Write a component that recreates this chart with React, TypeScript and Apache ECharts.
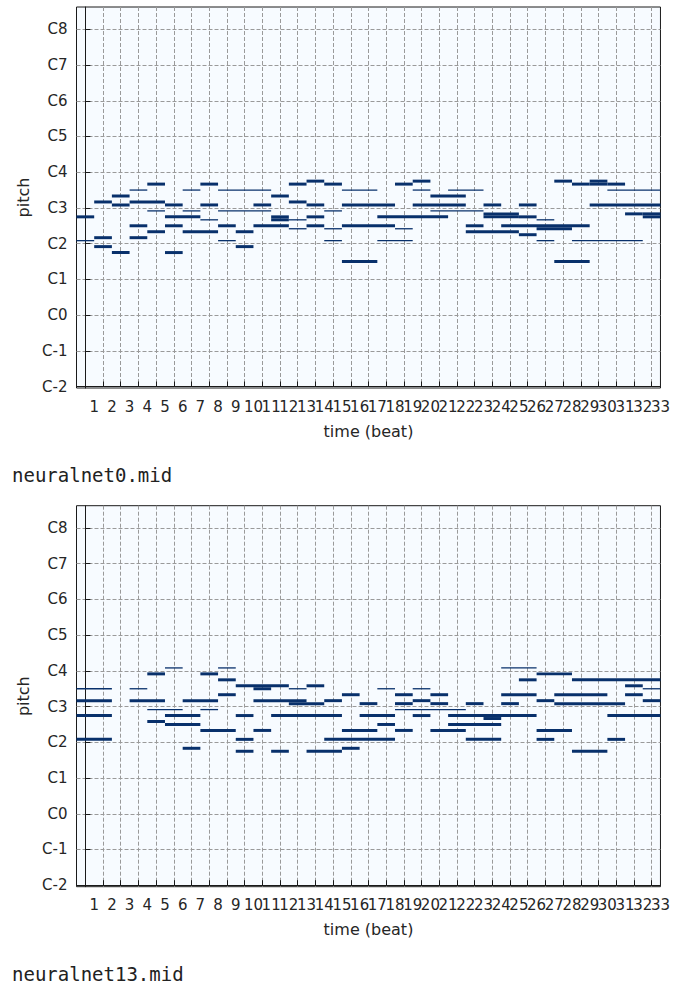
import React, { useEffect, useRef } from "react";
import * as echarts from "echarts";

// [start timestep (beat), duration (beats), MIDI pitch, velocity]
const notesNet0: [number, number, number, number][] = [
  [0, 1, 57, 100], [0, 1, 49, 45],
  [1, 1, 62, 100], [1, 1, 50, 100], [1, 1, 47, 100],
  [2, 1, 64, 100], [2, 1, 61, 100], [2, 1, 45, 100],
  [3, 1, 66, 45], [3, 2, 62, 100], [3, 1, 54, 100], [3, 1, 50, 100],
  [4, 1, 68, 100], [4, 1, 59, 45], [4, 1, 52, 100],
  [5, 1, 61, 100], [5, 2, 57, 100], [5, 1, 54, 100], [5, 1, 45, 100],
  [6, 1, 66, 45], [6, 1, 59, 45], [6, 2, 52, 100],
  [7, 1, 68, 100], [7, 1, 61, 100], [7, 1, 56, 45],
  [8, 3, 66, 45], [8, 3, 59, 45], [8, 1, 54, 100], [8, 1, 49, 45],
  [9, 1, 52, 100], [9, 1, 47, 100],
  [10, 1, 61, 100], [10, 2, 54, 100],
  [11, 1, 64, 100], [11, 1, 57, 100], [11, 1, 56, 100],
  [12, 1, 68, 100], [12, 1, 62, 100], [12, 1, 56, 45], [12, 1, 53, 45],
  [13, 1, 69, 100], [13, 1, 61, 100], [13, 1, 57, 100], [13, 1, 54, 100],
  [14, 1, 68, 100], [14, 1, 59, 45], [14, 1, 53, 45], [14, 1, 49, 45],
  [15, 2, 66, 45], [15, 3, 61, 100], [15, 3, 54, 100], [15, 2, 42, 100],
  [17, 4, 57, 100], [17, 2, 49, 45],
  [18, 1, 68, 100], [18, 1, 53, 45],
  [19, 1, 69, 100], [19, 1, 66, 45], [19, 3, 61, 100],
  [20, 2, 64, 100], [20, 3, 59, 45],
  [21, 2, 66, 45],
  [22, 1, 54, 100], [22, 3, 52, 100],
  [23, 1, 61, 100], [23, 2, 58, 100], [23, 2, 57, 100],
  [24, 5, 54, 100],
  [25, 1, 61, 100], [25, 1, 57, 100], [25, 1, 51, 100],
  [26, 1, 56, 45], [26, 2, 53, 100], [26, 1, 49, 45],
  [27, 1, 69, 100], [27, 2, 42, 100],
  [28, 1, 68, 100], [28, 4, 49, 45],
  [29, 1, 69, 100], [29, 1, 68, 100], [29, 4, 61, 100],
  [30, 1, 68, 100], [30, 3, 66, 45],
  [31, 1, 58, 100],
  [32, 1, 58, 100], [32, 1, 57, 100],
];

const notesNet13: [number, number, number, number][] = [
  [0, 2, 66, 45], [0, 2, 62, 100], [0, 2, 57, 100], [0, 2, 49, 100],
  [3, 1, 66, 45], [3, 2, 62, 100],
  [4, 1, 71, 100], [4, 2, 59, 45], [4, 1, 55, 100],
  [5, 1, 73, 45], [5, 2, 57, 100], [5, 2, 54, 100],
  [6, 2, 62, 100], [6, 1, 46, 100],
  [7, 1, 71, 100], [7, 1, 59, 45], [7, 2, 52, 100],
  [8, 1, 73, 45], [8, 1, 69, 100], [8, 1, 64, 100],
  [9, 3, 67, 100], [9, 1, 57, 100], [9, 1, 49, 100], [9, 1, 45, 100],
  [10, 1, 66, 100], [10, 3, 62, 100], [10, 1, 52, 100],
  [11, 4, 57, 100], [11, 1, 45, 100],
  [12, 1, 66, 45], [12, 2, 61, 100],
  [13, 1, 67, 100], [13, 2, 45, 100],
  [14, 1, 62, 100], [14, 4, 49, 100],
  [15, 1, 64, 100], [15, 2, 52, 100], [15, 1, 46, 100],
  [16, 1, 61, 100], [16, 2, 57, 100],
  [17, 1, 66, 45], [17, 1, 54, 100],
  [18, 1, 64, 100], [18, 1, 61, 100], [18, 4, 59, 45], [18, 1, 52, 100],
  [19, 1, 66, 45], [19, 1, 62, 100], [19, 1, 57, 100],
  [20, 1, 64, 100], [20, 1, 61, 100], [20, 2, 52, 100],
  [21, 5, 57, 100], [21, 3, 54, 100],
  [22, 1, 61, 100], [22, 2, 49, 100],
  [23, 1, 56, 100],
  [24, 2, 73, 45], [24, 2, 64, 100], [24, 1, 61, 100],
  [25, 1, 69, 100],
  [26, 2, 71, 100], [26, 1, 62, 100], [26, 2, 52, 100], [26, 1, 49, 100],
  [27, 3, 64, 100], [27, 4, 61, 100],
  [28, 5, 69, 100], [28, 2, 45, 100],
  [30, 3, 57, 100], [30, 1, 49, 100],
  [31, 1, 67, 100], [31, 1, 64, 100],
  [32, 1, 66, 45], [32, 1, 62, 100],
];

const fileNames = ["neuralnet0.mid", "neuralnet13.mid"];

const pitchTicks = [0, 12, 24, 36, 48, 60, 72, 84, 96, 108, 120];
const pitchLabels = ["C-2", "C-1", "C0", "C1", "C2", "C3", "C4", "C5", "C6", "C7", "C8"];

const beatBoundaries = [
  0, 1, 2, 3, 4, 5, 6, 7, 8, 9, 10, 11, 12, 13, 14, 15, 16,
  17, 18, 19, 20, 21, 22, 23, 24, 25, 26, 27, 28, 29, 30, 31, 32,
];
const beatCenters = [
  0.5, 1.5, 2.5, 3.5, 4.5, 5.5, 6.5, 7.5, 8.5, 9.5, 10.5, 11.5, 12.5, 13.5, 14.5, 15.5, 16.5,
  17.5, 18.5, 19.5, 20.5, 21.5, 22.5, 23.5, 24.5, 25.5, 26.5, 27.5, 28.5, 29.5, 30.5, 31.5, 32.5,
];
const beatLabels = [
  "1", "2", "3", "4", "5", "6", "7", "8", "9", "10", "11", "12", "13", "14", "15", "16", "17",
  "18", "19", "20", "21", "22", "23", "24", "25", "26", "27", "28", "29", "30", "31", "32", "33",
];

const FONT = "'DejaVu Sans', sans-serif";
const NOTE_COLOR = "#08306b";
const TEXT_COLOR = "#262626";
const GRID_TOPS = [7, 505.7];
const GRID_LEFT = 76.5;
const GRID_W = 586;
const GRID_H = 381;

export default function App() {
  const ref = useRef<HTMLDivElement>(null);

  useEffect(() => {
    if (!ref.current) return;
    const chart = echarts.init(ref.current, null, { renderer: "svg" });

    const panels = [notesNet0, notesNet13];

    const grids = panels.map((_, i) => ({
      left: GRID_LEFT,
      top: GRID_TOPS[i],
      width: GRID_W,
      height: GRID_H,
      show: true,
      backgroundColor: "#f7fbff",
      borderColor: "#1a1a1a",
      borderWidth: 1,
      containLabel: false,
    }));

    const gridLine = { show: true, lineStyle: { color: "#9a9a9a", width: 1, type: [4, 2] as any } };

    const beatLabelFormatter = (v: number) => {
      const idx = beatCenters.findIndex((c) => Math.abs(c - v) < 1e-6);
      return idx >= 0 ? beatLabels[idx] : "";
    };
    const oddCenters = beatCenters.filter((_, k) => k % 2 === 0);
    const evenCenters = beatCenters.filter((_, k) => k % 2 === 1);

    const labelStyle = {
      show: true,
      formatter: beatLabelFormatter,
      color: TEXT_COLOR,
      fontSize: 15,
      fontFamily: FONT,
      margin: 11,
      showMinLabel: true,
      showMaxLabel: true,
      hideOverlap: false,
    };

    // main x axes (ticks, grid lines, odd labels, name)
    const mainXAxes = panels.map((_, i) => ({
      gridIndex: i,
      type: "value",
      position: "bottom",
      min: -0.5,
      max: 32.5,
      axisLine: { show: true, lineStyle: { color: "#1a1a1a", width: 1 } },
      axisTick: {
        show: true,
        inside: true,
        length: 5,
        customValues: beatBoundaries,
        lineStyle: { color: "#1a1a1a", width: 1 },
      },
      axisLabel: { ...labelStyle, customValues: oddCenters },
      splitLine: gridLine,
      name: "time (beat)",
      nameLocation: "middle",
      nameGap: 35,
      nameTextStyle: { color: TEXT_COLOR, fontSize: 16, fontFamily: FONT },
    }));

    // companion x axes carrying the even beat labels
    const labelXAxes = panels.map((_, i) => ({
      gridIndex: i,
      type: "value",
      position: "bottom",
      offset: 0,
      min: -0.5,
      max: 32.5,
      axisLine: { show: false },
      axisTick: { show: false, customValues: evenCenters },
      axisLabel: { ...labelStyle, customValues: evenCenters },
      splitLine: { show: false },
    }));

    const yAxes = panels.map((_, i) => ({
      gridIndex: i,
      type: "value",
      min: -0.5,
      max: 127.5,
      axisLine: { show: true, lineStyle: { color: "#1a1a1a", width: 1 } },
      axisTick: {
        show: true,
        inside: true,
        length: 5,
        customValues: pitchTicks,
        lineStyle: { color: "#1a1a1a", width: 1 },
      },
      axisLabel: {
        show: true,
        customValues: pitchTicks,
        formatter: (v: number) => {
          const idx = pitchTicks.indexOf(v);
          return idx >= 0 ? pitchLabels[idx] : "";
        },
        color: TEXT_COLOR,
        fontSize: 15,
        fontFamily: FONT,
        margin: 9,
      },
      splitLine: gridLine,
      name: "pitch",
      nameLocation: "middle",
      nameGap: 43,
      nameRotate: 90,
      nameTextStyle: { color: TEXT_COLOR, fontSize: 16, fontFamily: FONT },
    }));

    const series = panels.map((notes, i) => ({
      type: "custom",
      xAxisIndex: i,
      yAxisIndex: i,
      clip: true,
      encode: { x: 0, y: 2 },
      data: notes,
      renderItem: (params: any, api: any) => {
        const t = api.value(0);
        const d = api.value(1);
        const p = api.value(2);
        const vel = api.value(3);
        const a = api.coord([t - 0.5, p]);
        const b = api.coord([t + d - 0.5, p]);
        const rowH = api.size([0, 1])[1];
        const h = vel >= 64 ? rowH : 1.3;
        return {
          type: "rect",
          shape: { x: a[0], y: a[1] - h / 2, width: b[0] - a[0], height: h },
          style: { fill: NOTE_COLOR },
        };
      },
    }));

    const graphic = fileNames.map((name, i) => ({
      type: "text",
      x: 12,
      y: 475 + i * 498.7,
      style: {
        text: name,
        font: "19px 'DejaVu Sans Mono', monospace",
        fill: "#222",
        verticalAlign: "middle",
        align: "left",
      },
    }));

    chart.setOption({
      animation: false,
      backgroundColor: "#ffffff",
      grid: grids,
      xAxis: [...mainXAxes, ...labelXAxes],
      yAxis: yAxes,
      series,
      graphic,
    } as any);

    return () => chart.dispose();
  }, []);

  return (
    <div
      ref={ref}
      style={{ position: "absolute", left: 0, top: 0, width: 673, height: 985, background: "#fff" }}
    />
  );
}
